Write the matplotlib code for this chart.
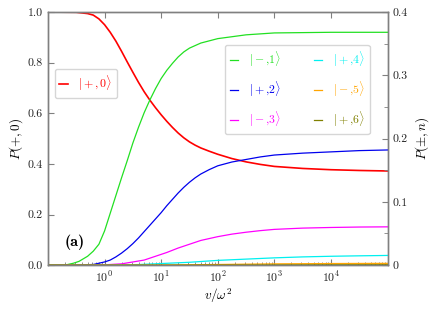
import matplotlib
matplotlib.use("Agg")
import matplotlib.pyplot as plt
from matplotlib.ticker import FuncFormatter, MultipleLocator, LogLocator, NullFormatter

plt.rcParams['font.family'] = 'serif'
plt.rcParams['font.serif'] = ['cmr10', 'DejaVu Serif']
plt.rcParams['mathtext.fontset'] = 'cm'
plt.rcParams['axes.formatter.use_mathtext'] = True

# values; x given as log10(v/omega^2)
e_plus0 = [-1, -0.5, -0.3, -0.2, -0.1, 0, 0.1, 0.2, 0.3, 0.4, 0.5, 0.6, 0.7, 0.8, 0.9, 1.0,
           1.1, 1.2, 1.3, 1.4, 1.5, 1.6, 1.7, 1.85, 2.0, 2.25, 2.5, 2.75, 3.0, 3.5, 4.0, 4.5, 5.0]
p_plus0 = [1.0, 0.999, 0.994, 0.988, 0.973, 0.950, 0.920, 0.885, 0.845, 0.803, 0.762, 0.722,
           0.685, 0.652, 0.622, 0.594, 0.568, 0.544, 0.522, 0.503, 0.487, 0.474, 0.463, 0.450,
           0.438, 0.421, 0.408, 0.398, 0.390, 0.382, 0.377, 0.374, 0.372]

e_minus1 = [-1, -0.7, -0.55, -0.45, -0.3, -0.2, -0.1, 0, 0.1, 0.2, 0.3, 0.4, 0.5, 0.6, 0.7,
            0.8, 0.9, 1.0, 1.1, 1.2, 1.3, 1.4, 1.5, 1.7, 2.0, 2.5, 3.0, 4.0, 5.0]
p_minus1 = [0.0, 0.0, 0.003, 0.006, 0.014, 0.022, 0.033, 0.054, 0.082, 0.110, 0.138, 0.165,
            0.193, 0.218, 0.241, 0.261, 0.279, 0.295, 0.308, 0.319, 0.329, 0.337, 0.343,
            0.351, 0.358, 0.364, 0.367, 0.368, 0.368]

e_plus2 = [-1, -0.5, -0.2, 0, 0.1, 0.2, 0.3, 0.4, 0.5, 0.6, 0.7, 0.8, 0.9, 1.0, 1.1, 1.2,
           1.3, 1.4, 1.5, 1.6, 1.7, 1.85, 2.0, 2.25, 2.5, 2.75, 3.0, 3.5, 4.0, 4.5, 5.0]
p_plus2 = [0.0, 0.0, 0.001, 0.005, 0.008, 0.013, 0.019, 0.026, 0.034, 0.043, 0.053, 0.063,
           0.073, 0.083, 0.094, 0.104, 0.114, 0.123, 0.131, 0.138, 0.144, 0.151, 0.157,
           0.163, 0.167, 0.171, 0.174, 0.177, 0.179, 0.181, 0.182]

e_minus3 = [-1, -0.3, 0, 0.3, 0.5, 0.7, 0.8, 0.9, 1.0, 1.1, 1.2, 1.3, 1.4, 1.5, 1.6, 1.7,
            1.85, 2.0, 2.25, 2.5, 2.75, 3.0, 3.5, 4.0, 4.5, 5.0]
p_minus3 = [0.0, 0.0, 0.0005, 0.002, 0.005, 0.008, 0.011, 0.014, 0.017, 0.020, 0.0235,
            0.027, 0.030, 0.033, 0.036, 0.039, 0.042, 0.045, 0.049, 0.052, 0.0545, 0.0565,
            0.0585, 0.0595, 0.0602, 0.0605]

e_plus4 = [-1, 0, 0.5, 1.0, 1.5, 2.0, 2.5, 3.0, 3.5, 4.0, 4.5, 5.0]
p_plus4 = [0.0, 0.0, 0.0005, 0.0025, 0.0045, 0.0075, 0.0095, 0.0115, 0.013, 0.014, 0.0147,
           0.0153]

e_minus5 = [-1, 1, 2, 3, 4, 5]
p_minus5 = [0.0, 0.0, 0.001, 0.002, 0.0025, 0.0028]

e_plus6 = [-1, 1, 2, 3, 4, 5]
p_plus6 = [0.0, 0.0, 0.0001, 0.0003, 0.0005, 0.0006]

right_e = [e_minus1, e_plus2, e_minus3, e_plus4, e_minus5, e_plus6]
right_p = [p_minus1, p_plus2, p_minus3, p_plus4, p_minus5, p_plus6]
right_labels = [r'$|-{,}1\rangle$', r'$|+{,}2\rangle$', r'$|-{,}3\rangle$',
                r'$|+{,}4\rangle$', r'$|-{,}5\rangle$', r'$|+{,}6\rangle$']
right_colors = ['#22e022', '#0000ee', '#ff00ff', '#00f0f0', '#ffa500', '#808000']

fig = plt.figure(figsize=(4.36, 3.09), dpi=100)
ax = fig.add_axes([0.110, 0.142, 0.779, 0.819])
ax2 = ax.twinx()

ax.plot([10 ** e for e in e_plus0], p_plus0, color='red', lw=1.2, label=r'$|+,0\rangle$')
for es, ys, lab, c in zip(right_e, right_p, right_labels, right_colors):
    ax2.plot([10 ** e for e in es], ys, color=c, lw=0.9, label=lab)

ax.set_xscale('log')
ax.set_xlim(0.1, 1e5)
ax.set_ylim(0, 1)
ax2.set_ylim(0, 0.4)

ax.set_xticks([1, 10, 100, 1e3, 1e4])
ax.xaxis.set_minor_locator(LogLocator(base=10, subs=range(2, 10), numticks=20))
ax.xaxis.set_minor_formatter(NullFormatter())
ax.yaxis.set_major_locator(MultipleLocator(0.2))
ax.yaxis.set_major_formatter(FuncFormatter(lambda y, p: '%.1f' % y))
ax2.yaxis.set_major_locator(MultipleLocator(0.1))
ax2.yaxis.set_minor_locator(MultipleLocator(0.05))
ax2.yaxis.set_major_formatter(FuncFormatter(lambda y, p: '%g' % y))

fs = 8.5
for a in (ax, ax2):
    for sp in a.spines.values():
        sp.set_color('#808080')
        sp.set_linewidth(1.0)
ax.tick_params(which='both', direction='in', colors='#808080', labelcolor='#222222',
               labelsize=fs, top=True)
ax.tick_params(which='major', length=4)
ax.tick_params(which='minor', length=2, top=False)
ax2.tick_params(which='both', direction='in', colors='#808080', labelcolor='#222222',
                labelsize=fs)
ax2.tick_params(which='major', length=4)
ax2.tick_params(which='minor', length=3)

ax.set_xlabel(r'$v/\omega^2$', fontsize=fs + 1, labelpad=1)
ax.set_ylabel(r'$P(+,0)$', fontsize=fs + 1, labelpad=2)
ax2.set_ylabel(r'$P(\pm,n)$', fontsize=fs + 1, labelpad=4)

ax.text(0.05, 0.075, '(a)', transform=ax.transAxes, fontsize=11.5,
        family=['cmb10', 'DejaVu Serif'])

leg1 = ax.legend(loc='upper left', bbox_to_anchor=(0.02, 0.775), borderaxespad=0,
                 fontsize=fs, handlelength=0.7, handletextpad=0.9, labelcolor='linecolor',
                 framealpha=0.8, edgecolor='#cccccc', fancybox=True)
leg2 = ax2.legend(loc='upper right', bbox_to_anchor=(0.947, 0.87), borderaxespad=0,
                  ncol=2, fontsize=fs, handlelength=0.7, handletextpad=0.9,
                  columnspacing=2.8, labelspacing=0.9, labelcolor='linecolor',
                  framealpha=0.8, edgecolor='#cccccc', fancybox=True)

fig.savefig('out.png', dpi=100)
